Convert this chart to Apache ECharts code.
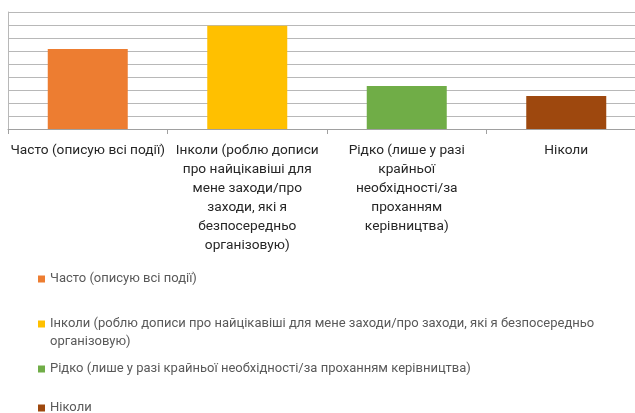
<!DOCTYPE html>
<html><head><meta charset="utf-8">
<script src="https://cdn.jsdelivr.net/npm/echarts@6/dist/echarts.min.js"></script>
<style>html,body{margin:0;padding:0;background:#fff;overflow:hidden;width:635px;height:413px}#c{width:646px;height:413px}</style>
</head><body><div id="c"></div>
<script>
const categories = [
  'Часто (описую всі події)',
  'Інколи (роблю дописи\nпро найцікавіші для\nмене заходи/про\nзаходи, які я\nбезпосередньо\nорганізовую)',
  'Рідко (лише у разі\nкрайньої\nнеобхідності/за\nпроханням\nкерівництва)',
  'Ніколи'
];
const values = [30.8, 39.7, 16.5, 12.7];
const colors = ['#ED7D31', '#FFC000', '#70AD47', '#9E480E'];
const yMax = 45, yInterval = 5;
const legendTops = [270, 297, 360, 399];

const names = categories.map(c => c.replace(/\n/g, ' '));
const font = 'Roboto, "Liberation Sans", sans-serif';
const legendFontSize = 13;
const legendWrapWidth = 560;

// word-wrap a legend name to the available width; pad so the icon sits on the first line
const ctx = document.createElement('canvas').getContext('2d');
ctx.font = legendFontSize + 'px ' + font;
function wrapLegend(text) {
  const words = text.split(' ');
  const lines = [];
  let cur = '';
  words.forEach(w => {
    const t = cur ? cur + ' ' + w : w;
    if (ctx.measureText(t).width > legendWrapWidth && cur) { lines.push(cur); cur = w; }
    else cur = t;
  });
  if (cur) lines.push(cur);
  if (lines.length === 1) return lines[0];
  const pad = [];
  for (let k = 1; k < lines.length; k++) pad.push(' ');
  return pad.join('\n') + '\n' + lines.join('\n');
}

const series = names.map((n, i) => ({
  name: n,
  type: 'bar',
  barWidth: 80,
  barGap: '-100%',
  itemStyle: { color: colors[i] },
  data: values.map((v, j) => (j === i ? v : '-'))
}));

const legends = names.map((n, i) => ({
  data: [n],
  orient: 'vertical',
  left: 38,
  top: legendTops[i],
  padding: 0,
  icon: 'rect',
  itemWidth: 7,
  itemHeight: 7,
  itemGap: 4,
  selectedMode: false,
  formatter: wrapLegend,
  textStyle: {
    fontFamily: font, fontSize: legendFontSize, color: '#595959', lineHeight: 18
  }
}));

const chart = echarts.init(document.getElementById('c'));
chart.setOption({
  animation: false,
  grid: { left: 8, top: 12, height: 117, right: 0, containLabel: false },
  legend: legends,
  xAxis: {
    type: 'category',
    data: categories,
    axisLine: { lineStyle: { color: '#a0a0a0', width: 1 } },
    axisTick: { show: true, length: 5, lineStyle: { color: '#a0a0a0' } },
    axisLabel: {
      interval: 0, margin: 12, fontFamily: font, fontSize: 13.7,
      color: '#262626', lineHeight: 19
    }
  },
  yAxis: {
    type: 'value', min: 0, max: yMax, interval: yInterval,
    axisLabel: { show: false },
    axisLine: { show: true, lineStyle: { color: '#b8b8b8' } },
    axisTick: { show: false },
    splitLine: { lineStyle: { color: '#b8b8b8', width: 1 } }
  },
  series: series
});
</script></body></html>
